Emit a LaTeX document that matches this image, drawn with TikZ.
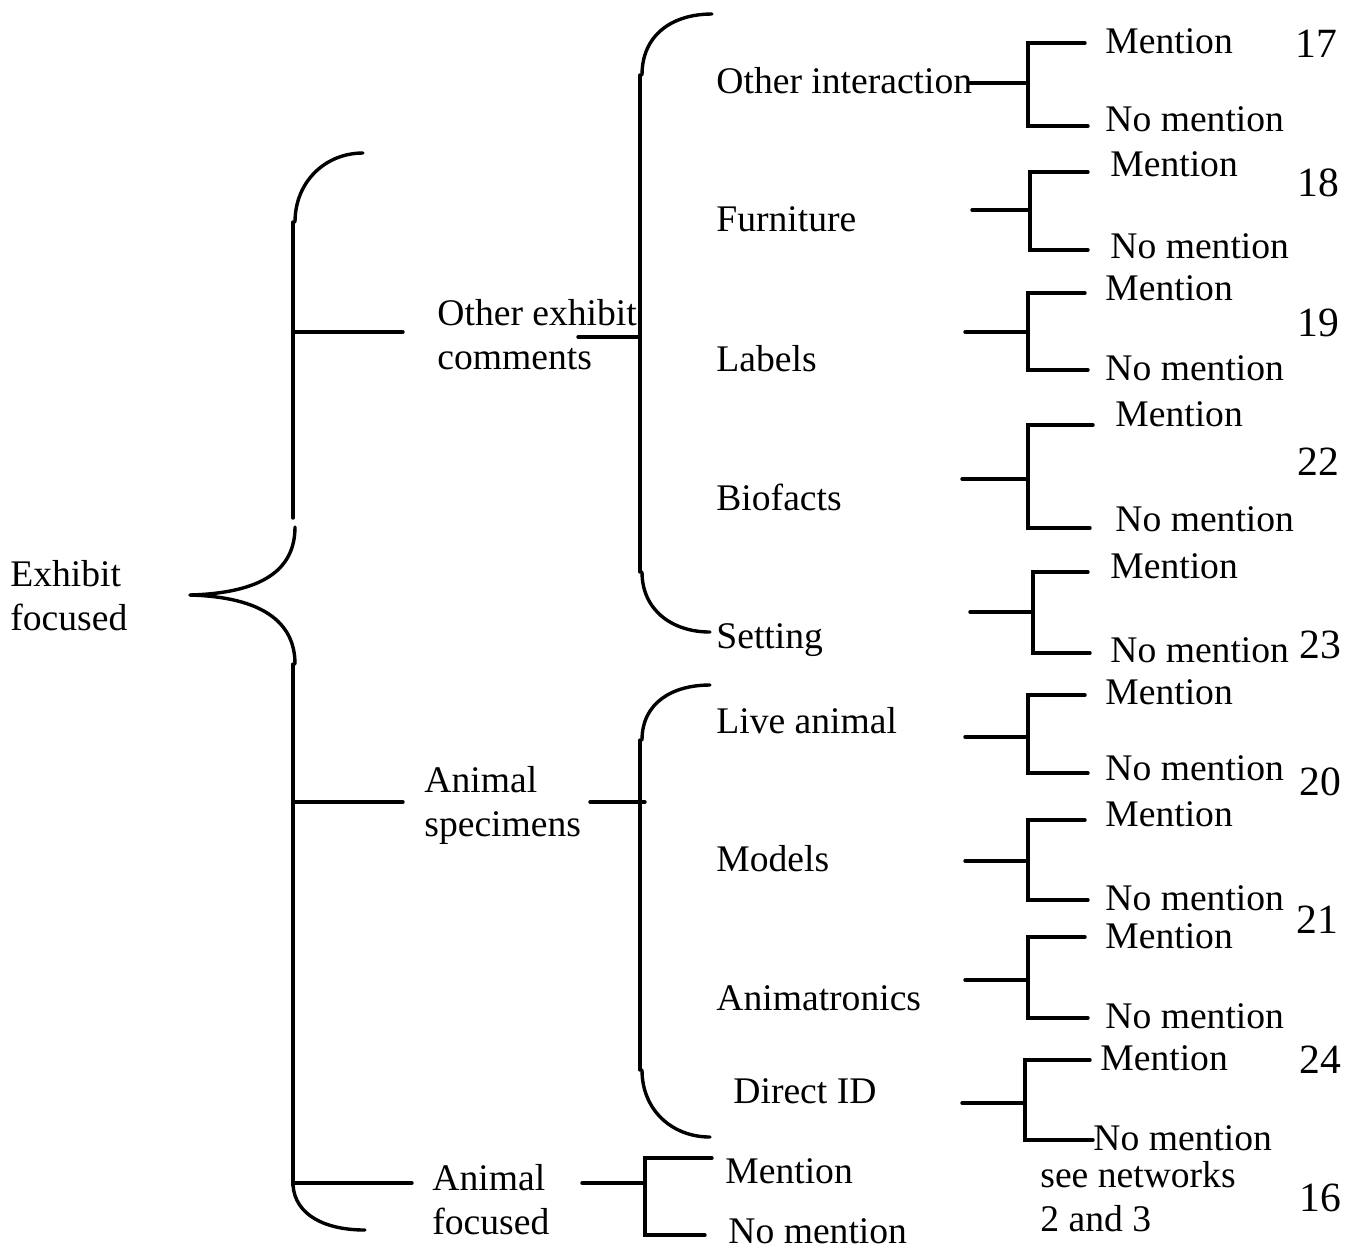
\documentclass[tikz,border=0pt]{standalone}
\usepackage{fontspec}
\setmainfont{Liberation Serif}
\begin{document}
\begin{tikzpicture}[x=0.5pt,y=-0.5pt,
  ln/.style={line width=1.7pt,line cap=round},
  lbl/.style={inner sep=0pt,anchor=base west,font=\fontsize{18.8}{22}\selectfont},
  lbl2/.style={inner sep=0pt,anchor=west,align=left,font=\fontsize{18.8}{22}\selectfont},
  num/.style={inner sep=0pt,anchor=center,font=\fontsize{20.8}{24}\selectfont}]
\useasboundingbox (0,0) rectangle (1359,1250);
% ---- text nodes
\node[lbl2] (ef) at (10,596) {Exhibit\\focused};
\node[lbl2] (oec) at (437,335) {Other exhibit\\comments};
\node[lbl2] (asp) at (424,805) {Animal\\specimens};
\node[lbl2] (af) at (432,1200) {Animal\\focused};
\node[lbl] (oi) at (716,93) {Other interaction};
\node[lbl] (fu) at (716,231) {Furniture};
\node[lbl] (la) at (716,371) {Labels};
\node[lbl] (bi) at (716,510) {Biofacts};
\node[lbl] (se) at (716,648) {Setting};
\node[lbl] (li) at (716,733) {Live animal};
\node[lbl] (mo) at (716,871) {Models};
\node[lbl] (an) at (716,1010) {Animatronics};
\node[lbl] (di) at (733,1103) {Direct ID};
\node[lbl] (afm) at (725,1183) {Mention};
\node[lbl] (afn) at (728,1243) {No mention};
\node[lbl] (m1) at (1105,53) {Mention};   \node[lbl] (n1) at (1105,131) {No mention};
\node[lbl] (m2) at (1110,176) {Mention};  \node[lbl] (n2) at (1110,258) {No mention};
\node[lbl] (m3) at (1105,300) {Mention};  \node[lbl] (n3) at (1105,380) {No mention};
\node[lbl] (m4) at (1115,426) {Mention};  \node[lbl] (n4) at (1115,531) {No mention};
\node[lbl] (m5) at (1110,578) {Mention};  \node[lbl] (n5) at (1110,662) {No mention};
\node[lbl] (m6) at (1105,704) {Mention};  \node[lbl] (n6) at (1105,780) {No mention};
\node[lbl] (m7) at (1105,826) {Mention};  \node[lbl] (n7) at (1105,910) {No mention};
\node[lbl] (m8) at (1105,948) {Mention};  \node[lbl] (n8) at (1105,1028) {No mention};
\node[lbl] (m9) at (1100,1070) {Mention}; \node[lbl] (n9) at (1093,1150) {No mention};
\node[lbl2] (see) at (1040,1197) {see networks\\2 and 3};
\node[num] (c17) at (1316,44) {17};
\node[num] (c18) at (1318,183) {18};
\node[num] (c19) at (1318,323) {19};
\node[num] (c22) at (1318,462) {22};
\node[num] (c23) at (1320,645) {23};
\node[num] (c20) at (1320,782) {20};
\node[num] (c21) at (1317,920) {21};
\node[num] (c24) at (1320,1060) {24};
\node[num] (c16) at (1320,1198) {16};
% ---- big brace
\coordinate (tip) at (190,595);
\draw[ln] (tip) .. controls (262,593) and (295,570) .. (295,527);
\draw[ln] (tip) .. controls (262,597) and (295,622) .. (295,664);
\draw[ln] (293,518) -- (293,222);
\draw[ln] (295,222) .. controls (295,182) and (325,153) .. (363,153);
\draw[ln] (293,664) -- (293,1185);
\draw[ln] (293,1185) .. controls (295,1215) and (325,1230) .. (365,1230);
\draw[ln] (293,332) -- (403,332);
\draw[ln] (293,802) -- (403,802);
\draw[ln] (293,1183) -- (412,1183);
% ---- brace: other exhibit comments
\draw[ln] (578,337) -- (640,337);
\draw[ln] (642,75) .. controls (642,35) and (672,14) .. (712,14);
\draw[ln] (640,75) -- (640,572);
\draw[ln] (642,572) .. controls (642,610) and (672,632) .. (710,632);
% ---- brace: animal specimens
\draw[ln] (590,802) -- (645,802);
\draw[ln] (642,740) .. controls (642,703) and (672,685) .. (710,685);
\draw[ln] (640,740) -- (640,1070);
\draw[ln] (642,1070) .. controls (642,1110) and (672,1137) .. (710,1137);
% ---- animal focused bracket
\draw[ln] (582,1183) -- (645,1183);
\draw[ln] (712,1158) -- (645,1158) -- (645,1235) -- (705,1235);
% ---- mention brackets
\newcommand\mbr[7]{%
  \draw[ln] (#1,#3) -- (#2,#3);
  \draw[ln] (#6,#4) -- (#2,#4) -- (#2,#5) -- (#7,#5);}
\mbr{970}{1028}{83}{43}{126}{1085}{1088}
\mbr{972}{1030}{210}{172}{250}{1088}{1088}
\mbr{965}{1028}{332}{293}{370}{1085}{1088}
\mbr{962}{1028}{479}{425}{528}{1093}{1090}
\mbr{970}{1033}{612}{572}{653}{1088}{1090}
\mbr{965}{1028}{737}{695}{773}{1085}{1088}
\mbr{965}{1028}{861}{820}{900}{1085}{1088}
\mbr{965}{1028}{980}{937}{1018}{1085}{1088}
\mbr{962}{1025}{1103}{1060}{1140}{1090}{1093}
\end{tikzpicture}
\end{document}
